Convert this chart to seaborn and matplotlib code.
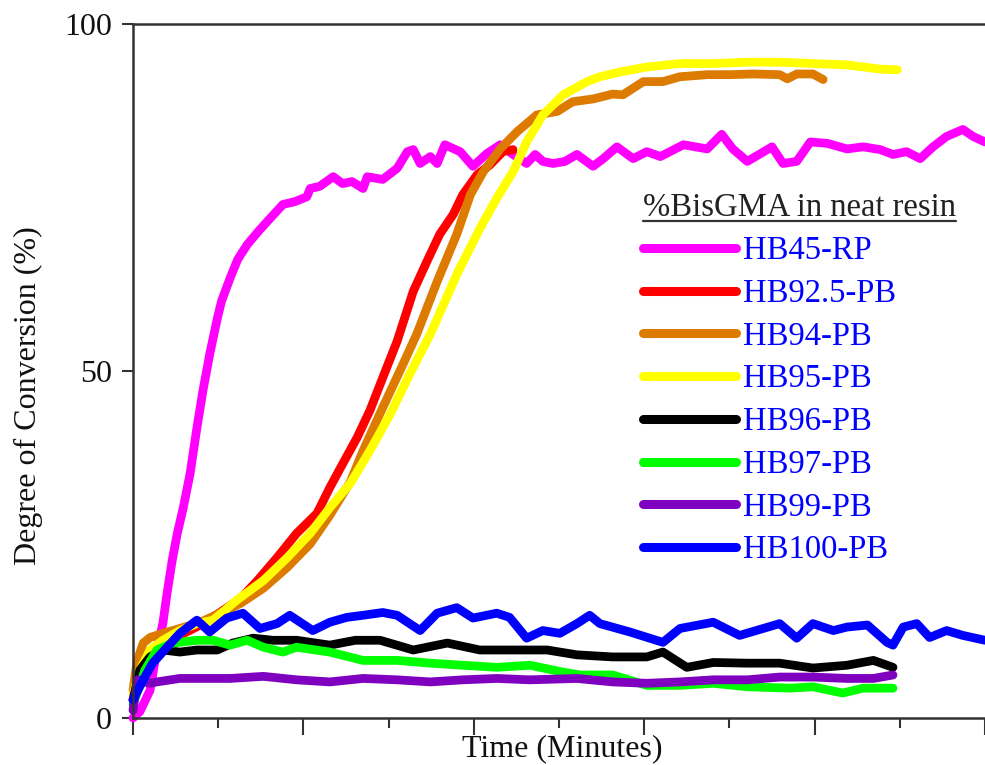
import matplotlib
matplotlib.use("Agg")
import matplotlib.pyplot as plt
from matplotlib.lines import Line2D
from matplotlib.ticker import MultipleLocator, NullFormatter
import pandas as pd
import seaborn as sns

# Resin series (legend order) and their line colours
series_names = ["HB45-RP", "HB92.5-PB", "HB94-PB", "HB95-PB",
                "HB96-PB", "HB97-PB", "HB99-PB", "HB100-PB"]
series_colors = ["#ff00ff", "#ff0000", "#dd7a00", "#ffff00",
                 "#000000", "#00ff00", "#7f00bf", "#0000ff"]

# Degree of conversion (%) against time for each resin
t_hb45 = [0.00, 0.08, 0.20, 0.28, 0.35, 0.40, 0.46, 0.52, 0.59, 0.67,
          0.75, 0.82, 0.90, 0.99, 1.04, 1.14, 1.23, 1.34, 1.47, 1.61,
          1.76, 1.90, 2.04, 2.08, 2.19, 2.35, 2.46, 2.57, 2.70, 2.75,
          2.93, 3.10, 3.22, 3.29, 3.37, 3.49, 3.57, 3.66, 3.84, 3.99,
          4.15, 4.31, 4.46, 4.62, 4.72, 4.81, 4.93, 5.07, 5.21, 5.40,
          5.52, 5.68, 5.87, 6.03, 6.19, 6.46, 6.74, 6.91, 7.04, 7.21,
          7.50, 7.63, 7.79, 7.95, 8.15, 8.38, 8.57, 8.77, 8.92, 9.08,
          9.24, 9.39, 9.55, 9.74, 9.86, 10.0]
dc_hb45 = [0.0, 0.9, 4.0, 9.8, 13.6, 18.0, 22.7, 26.6, 30.3, 35.2,
           41.8, 47.1, 52.4, 57.6, 60.1, 63.4, 66.1, 68.2, 70.1, 72.0,
           74.0, 74.4, 75.1, 76.3, 76.6, 78.0, 77.0, 77.3, 76.3, 78.0,
           77.6, 79.2, 81.6, 81.9, 79.9, 80.9, 79.9, 82.6, 81.6, 79.5,
           81.3, 82.6, 81.2, 79.9, 81.2, 80.2, 79.9, 80.2, 81.2, 79.5,
           80.6, 82.3, 80.6, 81.6, 80.9, 82.6, 82.0, 84.1, 82.0, 80.2,
           82.3, 79.9, 80.2, 83.0, 82.8, 82.0, 82.3, 81.9, 81.2, 81.6,
           80.6, 82.3, 83.8, 84.8, 83.8, 83.0]

t_hb925 = [0.00, 0.08, 0.20, 0.38, 0.55, 0.79, 1.02, 1.26, 1.46, 1.69,
           1.92, 2.16, 2.31, 2.46, 2.63, 2.78, 2.93, 3.10, 3.29, 3.45,
           3.60, 3.76, 3.87, 4.04, 4.19, 4.34, 4.46]
dc_hb925 = [2.6, 7.2, 9.1, 10.5, 11.9, 13.4, 15.2, 17.2, 19.8, 23.1,
            26.6, 29.5, 33.2, 36.6, 40.4, 44.3, 49.0, 54.3, 61.5, 65.8,
            69.7, 72.6, 75.4, 78.3, 79.7, 81.6, 81.9]

t_hb94 = [0.00, 0.05, 0.12, 0.20, 0.35, 0.55, 0.79, 1.02, 1.26, 1.53,
          1.81, 2.08, 2.31, 2.55, 2.70, 2.93, 3.17, 3.33, 3.57, 3.80,
          3.96, 4.11, 4.31, 4.51, 4.74, 4.98, 5.16, 5.40, 5.63, 5.75,
          5.99, 6.22, 6.42, 6.74, 7.01, 7.28, 7.59, 7.68, 7.79, 7.98,
          8.10]
dc_hb94 = [4.0, 8.3, 10.8, 11.6, 12.2, 12.9, 13.8, 15.1, 16.5, 18.7,
           21.7, 25.1, 29.2, 34.0, 38.5, 44.7, 51.0, 55.3, 62.9, 69.7,
           75.4, 78.7, 82.0, 84.5, 86.9, 87.4, 88.8, 89.2, 89.9, 89.8,
           91.7, 91.7, 92.4, 92.7, 92.7, 92.8, 92.7, 92.1, 92.8, 92.8,
           92.0]

t_hb95 = [0.00, 0.08, 0.20, 0.35, 0.55, 0.75, 0.94, 1.22, 1.53, 1.81,
          2.08, 2.31, 2.55, 2.78, 3.02, 3.25, 3.49, 3.80, 4.07, 4.27,
          4.46, 4.62, 4.81, 5.05, 5.33, 5.48, 5.72, 6.03, 6.42, 6.81,
          7.21, 7.59, 7.98, 8.38, 8.77, 8.97]
dc_hb95 = [3.3, 6.9, 9.8, 11.2, 12.6, 13.6, 14.1, 17.0, 19.8, 23.1,
           26.6, 30.3, 33.8, 38.5, 43.8, 49.6, 55.3, 63.9, 70.5, 74.9,
           78.7, 83.0, 86.9, 89.8, 91.7, 92.4, 93.1, 93.8, 94.3, 94.3,
           94.5, 94.5, 94.3, 94.1, 93.5, 93.4]

t_hb96 = [0.00, 0.08, 0.20, 0.35, 0.55, 0.75, 0.99, 1.17, 1.41, 1.64,
          1.92, 2.31, 2.61, 2.90, 3.29, 3.69, 4.07, 4.46, 4.86, 5.21,
          5.63, 6.03, 6.22, 6.50, 6.81, 7.21, 7.59, 7.98, 8.38, 8.69,
          8.92]
dc_hb96 = [2.6, 6.9, 8.8, 9.8, 9.5, 9.8, 9.8, 10.8, 11.5, 11.2,
           11.2, 10.5, 11.2, 11.2, 9.8, 10.8, 9.8, 9.8, 9.8, 9.1,
           8.8, 8.8, 9.5, 7.3, 8.0, 7.9, 7.9, 7.2, 7.6, 8.3,
           7.3]

t_hb97 = [0.00, 0.14, 0.28, 0.47, 0.75, 0.94, 1.14, 1.34, 1.53, 1.76,
          1.92, 2.31, 2.70, 3.10, 3.49, 3.87, 4.27, 4.66, 5.05, 5.25,
          5.63, 6.03, 6.42, 6.81, 7.21, 7.71, 7.98, 8.33, 8.57, 8.92]
dc_hb97 = [1.9, 6.9, 9.8, 10.8, 11.2, 11.2, 10.5, 11.2, 10.2, 9.5,
           10.2, 9.5, 8.3, 8.3, 7.9, 7.6, 7.3, 7.6, 6.6, 6.2,
           6.2, 4.7, 4.7, 5.0, 4.5, 4.3, 4.5, 3.6, 4.3, 4.3]

t_hb99 = [0.00, 0.05, 0.20, 0.28, 0.55, 0.75, 1.14, 1.53, 1.92, 2.31,
          2.70, 3.10, 3.49, 3.87, 4.27, 4.66, 5.21, 5.63, 6.03, 6.42,
          6.81, 7.21, 7.59, 7.98, 8.38, 8.69, 8.92]
dc_hb99 = [1.1, 5.5, 5.0, 5.2, 5.7, 5.7, 5.7, 6.0, 5.5, 5.2,
           5.7, 5.5, 5.2, 5.5, 5.7, 5.5, 5.7, 5.2, 5.0, 5.2,
           5.5, 5.5, 5.9, 5.9, 5.7, 5.7, 6.2]

t_hb100 = [0.00, 0.12, 0.23, 0.40, 0.55, 0.75, 0.90, 1.10, 1.29, 1.49,
           1.69, 1.84, 2.11, 2.31, 2.51, 2.70, 2.93, 3.10, 3.37, 3.57,
           3.80, 3.99, 4.27, 4.42, 4.62, 4.81, 5.01, 5.21, 5.36, 5.48,
           5.83, 6.22, 6.42, 6.81, 7.12, 7.59, 7.79, 7.98, 8.22, 8.38,
           8.62, 8.85, 8.92, 9.04, 9.20, 9.35, 9.55, 9.74, 10.0]
dc_hb100 = [2.6, 5.5, 7.9, 10.2, 12.2, 14.1, 12.4, 14.4, 15.1, 12.9,
            13.6, 14.8, 12.6, 13.8, 14.5, 14.8, 15.2, 14.8, 12.6, 15.1,
            15.9, 14.4, 15.1, 14.5, 11.5, 12.6, 12.2, 13.6, 14.8, 13.6,
            12.4, 10.9, 12.9, 13.8, 11.9, 13.6, 11.5, 13.6, 12.6, 13.1,
            13.4, 10.9, 10.5, 13.1, 13.6, 11.6, 12.6, 11.9, 11.2]

y_ticks = [0, 50, 100]
legend_title = "%BisGMA in neat resin"

times = [t_hb45, t_hb925, t_hb94, t_hb95, t_hb96, t_hb97, t_hb99, t_hb100]
conversions = [dc_hb45, dc_hb925, dc_hb94, dc_hb95, dc_hb96, dc_hb97,
               dc_hb99, dc_hb100]

df = pd.concat(
    [pd.DataFrame({"Time": t, "DC": dc, "Resin": name})
     for name, t, dc in zip(series_names, times, conversions)],
    ignore_index=True,
)

sns.set_style("ticks")
plt.rcParams["font.family"] = ["Liberation Serif", "DejaVu Serif"]

W, H = 985, 765
fig = plt.figure(figsize=(W / 100, H / 100), dpi=100)
ax = fig.add_axes([133 / W, 47 / H, 852 / W, 694 / H])

sns.lineplot(
    data=df, x="Time", y="DC", hue="Resin", hue_order=series_names,
    palette=dict(zip(series_names, series_colors)),
    estimator=None, sort=False, linewidth=6.3, ax=ax,
)
for ln in ax.get_lines():
    ln.set_solid_joinstyle("round")
    ln.set_solid_capstyle("round")
    ln.set_clip_on(False)

ax.set_xlim(0, 10)
ax.set_ylim(0, 100)
ax.set_yticks(y_ticks)
ax.xaxis.set_major_locator(MultipleLocator(2))
ax.xaxis.set_minor_locator(MultipleLocator(1))
ax.xaxis.set_major_formatter(NullFormatter())

spine_col = "#333333"
for side in ("left", "bottom", "top"):
    ax.spines[side].set_linewidth(1.8)
    ax.spines[side].set_color(spine_col)
ax.spines["right"].set_visible(False)

ax.tick_params(axis="x", which="major", direction="out", length=12,
               width=1.5, color=spine_col)
ax.tick_params(axis="x", which="minor", direction="out", length=7,
               width=1.5, color=spine_col)
ax.tick_params(axis="y", direction="out", length=8, width=1.5,
               color=spine_col, labelsize=23, pad=7, labelcolor="#111111")

ax.set_xlabel("Time (Minutes)", fontsize=23, color="#111111")
ax.xaxis.set_label_coords(0.5035, -0.023)
ax.set_ylabel("Degree of Conversion (%)", fontsize=23, color="#111111")
ax.yaxis.set_label_coords(-0.106, 0.465)

handles, labels = ax.get_legend_handles_labels()
leg = ax.legend(
    handles, labels, title=legend_title,
    loc="upper left", bbox_to_anchor=(643 / W, (H - 193) / H),
    bbox_transform=fig.transFigure, frameon=False, alignment="left",
    fontsize=23.5, title_fontsize=23.5, handlelength=2.85,
    handletextpad=0.2, labelspacing=0.375, borderpad=0, borderaxespad=0,
    labelcolor="#0000ff",
)
leg.get_title().set_color("#222222")
for h in leg.get_lines():
    h.set_linewidth(6.5)
    h.set_solid_capstyle("round")

# underline beneath the legend title
fig.canvas.draw()
bb = leg.get_title().get_window_extent(fig.canvas.get_renderer())
y_ul = (bb.y0 + 3) / H
fig.add_artist(Line2D([bb.x0 / W, bb.x1 / W], [y_ul, y_ul],
                      transform=fig.transFigure, color="#333333", lw=1.6))

fig.savefig("out.png", dpi=100)
